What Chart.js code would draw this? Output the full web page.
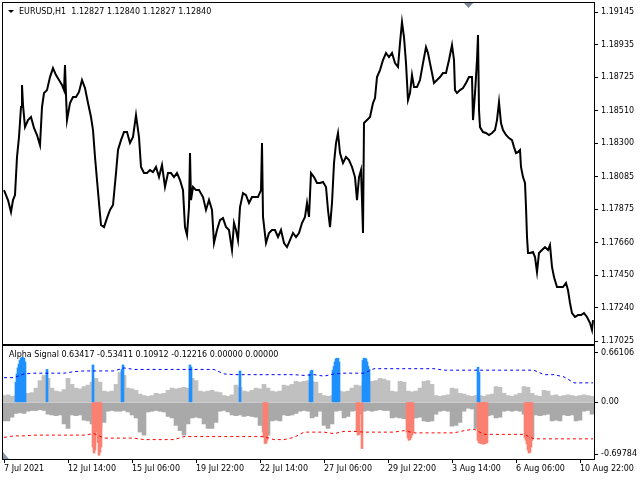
<!DOCTYPE html>
<html>
<head>
<meta charset="utf-8">
<script src="https://cdn.jsdelivr.net/npm/chart.js@4.4.0/dist/chart.umd.min.js"></script>
<style>
html, body { margin: 0; padding: 0; background: #fff; }
#wrap { position: relative; width: 640px; height: 480px; overflow: hidden; }
canvas { position: absolute; left: 0; }
#priceCanvas { top: 0; }
#signalCanvas { top: 345px; }
</style>
</head>
<body>
<div id="wrap">
  <canvas id="priceCanvas" width="640" height="345"></canvas>
  <canvas id="signalCanvas" width="640" height="135"></canvas>
</div>
<script>
// EURUSD H1, bar index from the left edge of the chart
const priceBars = [
    0, 4, 7, 9, 11, 13, 15, 17, 18, 19,
    21, 24, 27, 30, 33, 36, 38, 40, 43, 46,
    49, 52, 55, 58, 60, 61, 62, 63, 66, 69,
    72, 75, 78, 81, 84, 87, 89, 91, 93, 95,
    97, 100, 103, 106, 109, 112, 114, 117, 120, 123,
    126, 129, 132, 135, 137, 140, 143, 146, 149, 152,
    155, 158, 161, 164, 167, 170, 173, 176, 179, 181,
    183, 185, 186, 187, 189, 192, 195, 199, 202, 205,
    208, 210, 213, 216, 219, 222, 225, 228, 230, 232,
    234, 236, 239, 242, 245, 248, 251, 254, 257, 258,
    259, 262, 265, 268, 271, 274, 277, 280, 283, 286,
    289, 292, 295, 298, 301, 303, 305, 307, 310, 313,
    316, 319, 322, 324, 326, 328, 330, 332, 334, 336,
    339, 342, 345, 348, 351, 353, 355, 357, 358, 359,
    360, 363, 366, 369, 371, 373, 376, 379, 382, 385,
    388, 391, 394, 396, 398, 400, 402, 404, 406, 408,
    410, 413, 416, 419, 422, 424, 426, 428, 430, 433,
    436, 439, 442, 445, 448, 450, 451, 453, 456, 459,
    462, 465, 468, 469, 471, 473, 474, 475, 476, 479,
    482, 485, 488, 491, 493, 495, 497, 499, 502, 505,
    508, 510, 512, 514, 516, 517, 519, 521, 522, 523,
    524, 526, 529, 531, 533, 535, 538, 541, 544, 546,
    548, 550, 553, 556, 559, 562, 564, 566, 568, 571,
    574, 577, 580, 583, 586, 588, 589
];
const priceClose = [
    1.17998, 1.17934, 1.17857, 1.17934, 1.17966, 1.18211, 1.18340, 1.18533, 1.18675, 1.18546,
    1.18404, 1.18449, 1.18469, 1.18398, 1.18353, 1.18288, 1.18533, 1.18623, 1.18642, 1.18726,
    1.18784, 1.18739, 1.18707, 1.18675, 1.18642, 1.18803, 1.18610, 1.18449, 1.18559, 1.18597,
    1.18597, 1.18630, 1.18707, 1.18655, 1.18559, 1.18469, 1.18385, 1.18211, 1.18063, 1.17915,
    1.17773, 1.17760, 1.17818, 1.17870, 1.17902, 1.18108, 1.18256, 1.18320, 1.18372, 1.18372,
    1.18301, 1.18340, 1.18481, 1.18340, 1.18147, 1.18108, 1.18108, 1.18127, 1.18114, 1.18147,
    1.18082, 1.18159, 1.18018, 1.18108, 1.18108, 1.18082, 1.18108, 1.18063, 1.17998, 1.17760,
    1.17709, 1.17889, 1.18237, 1.17934, 1.18018, 1.17998, 1.17998, 1.17953, 1.17870, 1.17934,
    1.17870, 1.17657, 1.17741, 1.17805, 1.17818, 1.17760, 1.17741, 1.17612, 1.17786, 1.17741,
    1.17676, 1.17889, 1.17979, 1.17966, 1.17915, 1.17953, 1.17953, 1.17953, 1.17998, 1.18301,
    1.17825, 1.17657, 1.17722, 1.17741, 1.17741, 1.17696, 1.17741, 1.17657, 1.17631, 1.17676,
    1.17722, 1.17696, 1.17722, 1.17786, 1.17825, 1.17915, 1.17825, 1.18108, 1.18082, 1.18044,
    1.18044, 1.18050, 1.18018, 1.17870, 1.17760, 1.17915, 1.18172, 1.18301, 1.18366, 1.18237,
    1.18172, 1.18211, 1.18192, 1.18147, 1.18082, 1.17934, 1.18082, 1.18127, 1.17934, 1.17722,
    1.18430, 1.18449, 1.18469, 1.18559, 1.18591, 1.18726, 1.18771, 1.18836, 1.18881, 1.18855,
    1.18881, 1.18816, 1.18791, 1.18945, 1.19080, 1.18984, 1.18816, 1.18578, 1.18623, 1.18739,
    1.18662, 1.18662, 1.18707, 1.18816, 1.18919, 1.18881, 1.18816, 1.18752, 1.18688, 1.18707,
    1.18726, 1.18752, 1.18752, 1.18836, 1.18932, 1.18836, 1.18642, 1.18623, 1.18642, 1.18655,
    1.18688, 1.18726, 1.18726, 1.18449, 1.18623, 1.18836, 1.18997, 1.18514, 1.18404, 1.18372,
    1.18366, 1.18353, 1.18366, 1.18385, 1.18449, 1.18565, 1.18430, 1.18385, 1.18353, 1.18333,
    1.18320, 1.18275, 1.18237, 1.18243, 1.18256, 1.18147, 1.18082, 1.18044, 1.17889, 1.17696,
    1.17593, 1.17593, 1.17599, 1.17567, 1.17470, 1.17593, 1.17612, 1.17631, 1.17612, 1.17644,
    1.17503, 1.17438, 1.17374, 1.17374, 1.17374, 1.17400, 1.17354, 1.17271, 1.17206, 1.17181,
    1.17193, 1.17193, 1.17206, 1.17181, 1.17142, 1.17097, 1.17161
];
const priceTicks = [1.19145, 1.18935, 1.18725, 1.18510, 1.18300, 1.18085, 1.17875, 1.17660, 1.17450, 1.17240, 1.17025];

// Alpha Signal histogram, one value every 4 bars
const histBars = Array.from({ length: 148 }, (_, i) => i * 4);
const histPos = [
    .09, .10, .08, .09, .11, .10, .12, .13, .19, .29,
    .36, .32, .19, .15, .14, .17, .32, .24, .19, .18,
    .21, .23, .27, .32, .27, .15, .14, .15, .24, .40,
    .36, .19, .18, .16, .11, .09, .08, .09, .12, .11,
    .12, .16, .19, .18, .19, .20, .19, .32, .29, .15,
    .14, .15, .16, .14, .13, .09, .08, .10, .23, .20,
    .15, .14, .16, .19, .18, .24, .19, .15, .14, .15,
    .23, .22, .24, .28, .27, .28, .29, .28, .27, .12,
    .09, .08, .09, .12, .15, .14, .15, .19, .23, .22,
    .28, .27, .28, .29, .32, .31, .29, .15, .14, .28,
    .27, .15, .14, .15, .19, .28, .29, .24, .09, .08,
    .09, .10, .19, .18, .12, .11, .09, .08, .09, .09,
    .08, .10, .11, .21, .20, .12, .09, .08, .10, .12,
    .21, .20, .12, .09, .08, .16, .15, .09, .10, .08,
    .09, .10, .09, .08, .09, .10, .09, .08
];
const histNeg = [
    -.25, -.25, -.20, -.15, -.14, -.15, -.12, -.11, -.11, -.10,
    -.11, -.16, -.17, -.18, -.17, -.29, -.35, -.17, -.18, -.17,
    -.24, -.25, -.29, -.38, -.35, -.27, -.12, -.11, -.12, -.12,
    -.11, -.13, -.17, -.21, -.40, -.44, -.13, -.12, -.11, -.12,
    -.13, -.19, -.21, -.31, -.38, -.44, -.29, -.21, -.20, -.21,
    -.29, -.35, -.35, -.27, -.12, -.11, -.13, -.17, -.18, -.17,
    -.19, -.18, -.19, -.20, -.31, -.40, -.44, -.25, -.24, -.25,
    -.17, -.18, -.17, -.15, -.12, -.11, -.12, -.21, -.19, -.12,
    -.31, -.35, -.29, -.12, -.11, -.21, -.19, -.12, -.11, -.16,
    -.12, -.11, -.12, -.11, -.10, -.11, -.11, -.21, -.20, -.21,
    -.22, -.24, -.23, -.21, -.20, -.25, -.26, -.25, -.16, -.12,
    -.11, -.12, -.32, -.31, -.27, -.12, -.08, -.09, -.35, -.27,
    -.17, -.18, -.17, -.21, -.20, -.12, -.11, -.12, -.11, -.12,
    -.16, -.40, -.48, -.17, -.18, -.17, -.16, -.25, -.24, -.25,
    -.17, -.18, -.17, -.25, -.24, -.12, -.11, -.16
];

// signal bars
const upBars = [12, 13, 14, 15, 16, 17, 18, 19, 20, 21, 43, 89, 118, 119, 186, 187, 236, 306, 307, 308,
    329, 330, 331, 332, 333, 334, 335, 359, 360, 361, 362, 363, 364, 365, 474, 475];
const upValues = [.27, .38, .46, .51, .56, .59, .60, .60, .59, .54, .44, .50, .44, .50, .50, .47, .42, .38, .42, .43,
    .43, .48, .54, .58, .59, .59, .54, .56, .59, .59, .58, .54, .48, .44, .47, .40];
const downBars = [89, 90, 91, 92, 93, 94, 95, 96, 97, 260, 261, 262, 263, 353, 354, 355, 358,
    403, 404, 405, 406, 407, 408, 409, 474, 475, 476, 477, 478, 479, 480, 481, 482, 483,
    521, 522, 523, 524, 525, 526, 527, 528];
const downValues = [-.60, -.68, -.64, -.40, -.38, -.54, -.71, -.67, -.60, -.47, -.55, -.55, -.51, -.38, -.44, -.43, -.62,
    -.40, -.48, -.51, -.50, -.47, -.44, -.40, -.51, -.54, -.55, -.55, -.55, -.56, -.56, -.55, -.55, -.54,
    -.48, -.51, -.56, -.64, -.68, -.67, -.60, -.51];

// bands, one value every 10 bars
const bandBars = [0, 10, 20, 30, 40, 50, 60, 70, 80, 90, 100, 110, 120, 130, 140, 150, 160, 170, 180, 190,
    200, 210, 220, 230, 240, 250, 260, 270, 280, 290, 300, 310, 320, 330, 340, 350, 360, 370, 380, 390,
    400, 410, 420, 430, 440, 450, 460, 470, 480, 490, 500, 510, 520, 530, 540, 550, 560, 570, 580, 589];
const upperBand = [
    .33, .33, .38, .39, .39, .39, .39, .41, .42, .42,
    .42, .42, .46, .44, .44, .44, .44, .44, .44, .44,
    .44, .44, .38, .37, .37, .37, .37, .37, .37, .37,
    .36, .37, .35, .38, .39, .39, .39, .45, .45, .45,
    .45, .45, .45, .45, .43, .43, .43, .43, .43, .43,
    .43, .43, .43, .43, .37, .37, .34, .26, .26, .26
];
const lowerBand = [
    -.47, -.45, -.45, -.44, -.44, -.44, -.44, -.44, -.44, -.42,
    -.48, -.48, -.48, -.48, -.50, -.50, -.50, -.50, -.46, -.46,
    -.46, -.46, -.46, -.46, -.46, -.46, -.46, -.50, -.50, -.47,
    -.40, -.40, -.40, -.42, -.39, -.39, -.40, -.40, -.40, -.40,
    -.38, -.41, -.41, -.41, -.41, -.41, -.38, -.36, -.43, -.43,
    -.43, -.43, -.43, -.49, -.49, -.49, -.49, -.49, -.49, -.49
];
const signalTicks = [0.66106, 0, -0.69784];

// time axis
const timeTickBars = [0, 64, 128, 192, 256, 320, 384, 448, 512, 576];
const timeLabels = ['7 Jul 2021', '12 Jul 14:00', '15 Jul 06:00', '19 Jul 22:00', '22 Jul 14:00',
    '27 Jul 06:00', '29 Jul 22:00', '3 Aug 14:00', '6 Aug 06:00', '10 Aug 22:00'];

const FONT = { family: 'DejaVu Sans', size: 8 };
const CSS_FONT = '8px "DejaVu Sans"';

const toPoints = (xs, ys) => xs.map((x, i) => ({ x: x, y: ys[i] }));

// frame + text decorations for one pane
const paneDecor = {
    id: 'paneDecor',
    afterDraw(chart, args, opts) {
        const ctx = chart.ctx;
        const a = chart.chartArea;
        ctx.save();
        ctx.strokeStyle = '#000';
        ctx.lineWidth = 1;
        ctx.strokeRect(a.left - 0.5, a.top - 0.5, a.right - a.left + 1, a.bottom - a.top + 1);

        ctx.font = CSS_FONT;
        ctx.fillStyle = '#000';
        ctx.textBaseline = 'middle';
        ctx.textAlign = 'left';
        ctx.fillText(opts.text, opts.textX, opts.textY);

        if (opts.arrow) {
            ctx.beginPath();
            ctx.moveTo(8, 10);
            ctx.lineTo(14, 10);
            ctx.lineTo(11, 13);
            ctx.closePath();
            ctx.fill();
        }
        if (opts.shiftMark) {
            ctx.fillStyle = '#7a8898';
            ctx.beginPath();
            ctx.moveTo(464, 3);
            ctx.lineTo(473, 3);
            ctx.lineTo(468.5, 8);
            ctx.closePath();
            ctx.fill();
        }
        if (opts.cornerMark) {
            ctx.fillStyle = '#8a9aaa';
            ctx.beginPath();
            ctx.moveTo(a.left, a.bottom - 7);
            ctx.lineTo(a.left, a.bottom);
            ctx.lineTo(a.left + 6, a.bottom);
            ctx.closePath();
            ctx.fill();
        }
        ctx.restore();
    }
};

// no extra room for half labels at the ends of the axes
const noEndPadding = s => {
    s.paddingTop = 0;
    s.paddingBottom = 0;
    s.paddingLeft = 0;
    s.paddingRight = 0;
};

const rightAxis = (min, max, tickValues, fmt) => ({
    position: 'right',
    min: min,
    max: max,
    afterFit: s => { s.width = 46; noEndPadding(s); },
    afterBuildTicks: s => { s.ticks = tickValues.map(v => ({ value: v })); },
    grid: { drawOnChartArea: false, drawTicks: true, tickLength: 4, tickColor: '#000' },
    border: { display: true, color: '#000' },
    ticks: { color: '#000', font: FONT, padding: 3, autoSkip: false, callback: fmt }
});

new Chart(document.getElementById('priceCanvas'), {
    type: 'line',
    data: {
        datasets: [{
            data: toPoints(priceBars, priceClose),
            borderColor: '#000',
            borderWidth: 2,
            pointRadius: 0,
            tension: 0
        }]
    },
    options: {
        responsive: false,
        animation: false,
        devicePixelRatio: 1,
        layout: { padding: { left: 3, top: 3, right: 0, bottom: 1 } },
        plugins: {
            legend: { display: false },
            tooltip: { enabled: false },
            paneDecor: { text: 'EURUSD,H1  1.12827 1.12840 1.12827 1.12840', textX: 19, textY: 12, arrow: true, shiftMark: true }
        },
        scales: {
            x: { type: 'linear', min: -1, max: 590, display: false },
            y: rightAxis(1.17007, 1.19203, priceTicks, v => v.toFixed(5))
        }
    },
    plugins: [paneDecor]
});

new Chart(document.getElementById('signalCanvas'), {
    type: 'bar',
    data: {
        datasets: [
            { type: 'line', data: toPoints(bandBars, upperBand), borderColor: '#0000ff', borderWidth: 1,
              borderDash: [3, 3], pointRadius: 0, fill: false, order: 0 },
            { type: 'line', data: toPoints(bandBars, lowerBand), borderColor: '#ff0000', borderWidth: 1,
              borderDash: [3, 3], pointRadius: 0, fill: false, order: 1 },
            { data: toPoints(upBars, upValues), backgroundColor: '#1e90ff', barThickness: 2, grouped: false, order: 2 },
            { data: toPoints(downBars, downValues), backgroundColor: '#fa8072', barThickness: 2, grouped: false, order: 3 },
            { data: toPoints(histBars, histPos), backgroundColor: '#c0c0c0', barThickness: 4, grouped: false, order: 4 },
            { data: toPoints(histBars, histNeg), backgroundColor: '#a9a9a9', barThickness: 4, grouped: false, order: 5 }
        ]
    },
    options: {
        responsive: false,
        animation: false,
        devicePixelRatio: 1,
        layout: { padding: { left: 3, top: 1, right: 0, bottom: 0 } },
        plugins: {
            legend: { display: false },
            tooltip: { enabled: false },
            paneDecor: { text: 'Alpha Signal 0.63417 -0.53411 0.10912 -0.12216 0.00000 0.00000', textX: 9, textY: 10, cornerMark: true }
        },
        scales: {
            x: {
                type: 'linear',
                min: -1,
                max: 590,
                offset: false,
                afterFit: s => { s.height = 21; noEndPadding(s); },
                afterBuildTicks: s => { s.ticks = timeTickBars.map(v => ({ value: v })); },
                grid: { drawOnChartArea: false, drawTicks: true, tickLength: 4, tickColor: '#000', offset: false },
                border: { display: true, color: '#000' },
                ticks: {
                    color: '#000', font: FONT, padding: 1, align: 'start', maxRotation: 0, autoSkip: false,
                    callback: (v, i) => timeLabels[i]
                }
            },
            y: rightAxis(-0.76, 0.754, signalTicks, v => (v === 0 ? '0.00' : v.toFixed(5)))
        }
    },
    plugins: [paneDecor]
});
</script>
</body>
</html>
